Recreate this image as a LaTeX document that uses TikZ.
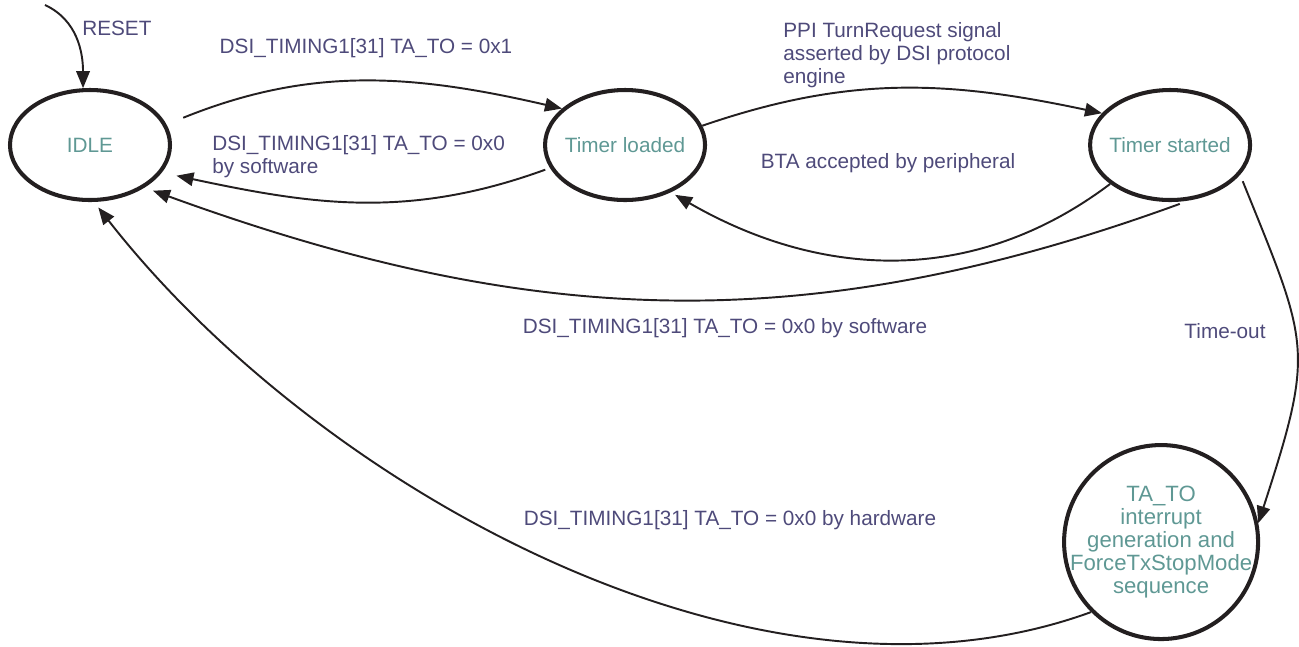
\documentclass[tikz,border=0pt]{standalone}
\usepackage{fontspec}
\setmainfont{Liberation Sans}
\usetikzlibrary{arrows.meta, positioning, shapes.geometric}
\definecolor{stline}{RGB}{35,31,32}
\definecolor{sttext}{RGB}{95,152,148}
\definecolor{lbltext}{RGB}{78,74,122}

\begin{document}
\begin{tikzpicture}[
    >={Triangle[length=0.34cm, width=0.27cm]},
    st/.style={ellipse, draw=stline, line width=2.3pt, minimum width=3.2cm,
               minimum height=2.2cm, inner xsep=-3mm, inner ysep=0pt,
               font=\fontsize{11.8}{13}\selectfont, text=sttext, align=center},
    arr/.style={->, line width=1.1pt, stline},
    lbl/.style={font=\fontsize{11.8}{13}\selectfont, text=lbltext,
                align=left, inner sep=0pt},
]
\useasboundingbox (0,0) rectangle (25.98,-12.92);

% states
\node[st] (idle) at (1.8,-2.9) {IDLE};
\node[st, right=7.42cm of idle] (tload) {Timer loaded};
\node[st, right=7.62cm of tload] (tstart) {Timer started};
\node[st, circle, minimum size=3.88cm, inner sep=-3mm,
      font=\fontsize{12.6}{13.1}\selectfont,
      below=4.82cm of tstart, xshift=-0.18cm] (tato)
    {TA\_TO\\interrupt\\generation and\\ForceTxStopMode\\sequence};

% transitions
\coordinate (rst) at ([xshift=-0.9cm, yshift=1.66cm]idle.north);
\draw[arr] (rst) to[out=-25, in=90] (idle.97);
\draw[arr, shorten <=0.36cm] (idle.15) to[out=22, in=167] (tload.150);
\draw[arr, shorten <=0.1cm, shorten >=0.3cm] (tload.197) to[out=200, in=-12] (idle.-21);
\draw[arr] (tload.14) to[out=19, in=168] (tstart.155);
\draw[arr, shorten >=0.1cm] (tstart.213) to[out=217, in=-30] (tload.-46);
\draw[arr, shorten <=0.2cm, shorten >=0.18cm] (tstart.-71) to[out=200, in=-20] (idle.-38);
\draw[arr, shorten <=0.14cm] (tstart.-23) to[out=-68, in=72, looseness=1.35] (tato.11);
\draw[arr, shorten >=0.14cm] (tato.225) to[out=200, in=-52, looseness=0.85] (idle.-86);

% labels
\node[lbl, anchor=west] (lreset) at (1.64,-0.56) {RESET};
\node[lbl] (lset) at (7.32,-0.96) {DSI\_TIMING1[31] TA\_TO = 0x1};
\node[lbl, anchor=west] (lclr) at (4.24,-3.13) {DSI\_TIMING1[31] TA\_TO = 0x0\\by software};
\node[lbl, anchor=west] (lppi) at (15.66,-1.1)
    {PPI TurnRequest signal\\asserted by DSI protocol\\engine};
\node[lbl] (lbta) at (17.76,-3.26) {BTA accepted by peripheral};
\node[lbl] (lsw) at (14.5,-6.56) {DSI\_TIMING1[31] TA\_TO = 0x0 by software};
\node[lbl] (ltout) at (24.5,-6.62) {Time-out};
\node[lbl] (lhw) at (14.6,-10.4) {DSI\_TIMING1[31] TA\_TO = 0x0 by hardware};

\end{tikzpicture}
\end{document}
